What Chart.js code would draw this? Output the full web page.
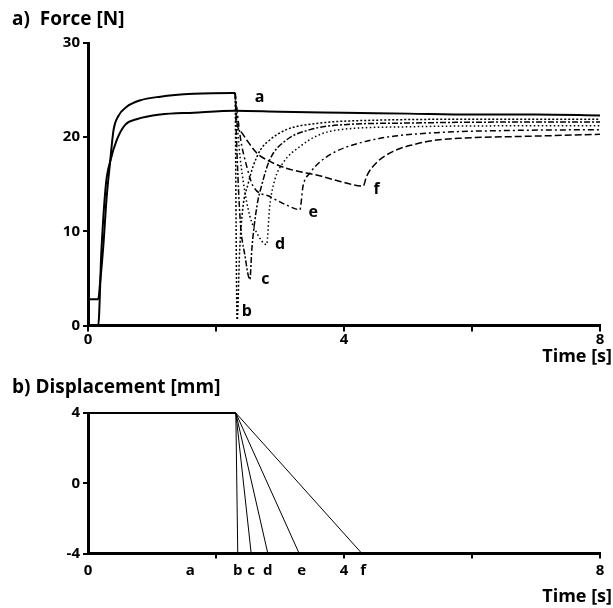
<!DOCTYPE html>
<html>
<head>
<meta charset="utf-8">
<script src="https://cdn.jsdelivr.net/npm/chart.js@4.4.1/dist/chart.umd.min.js"></script>
<style>
  body { margin: 0; background: #fff; }
  #wrap { position: relative; width: 613px; height: 608px; }
  canvas { position: absolute; left: 0; display: block; }
</style>
</head>
<body>
<div id="wrap">
  <canvas id="forceChart" width="613" height="368" style="top:0"></canvas>
  <canvas id="dispChart" width="613" height="240" style="top:368px"></canvas>
</div>
<script>
// force curves (time in s, force in N)
const loadT = [0, 0.16, 0.19, 0.24, 0.29, 0.34, 0.40, 0.47, 0.60, 0.81, 1.13, 1.65, 2.27, 2.30];
const loadF = [2.8, 2.8, 4.6, 8.5, 13.5, 17.0, 20.8, 22.2, 23.2, 23.9, 24.3, 24.6, 24.7, 24.7];

const aT = [0, 0.16, 0.21, 0.28, 0.35, 0.45, 0.58, 0.76, 1.13, 1.65, 2.3, 3, 4, 5, 6, 7, 8];
const aF = [0, 0, 8, 15, 17.5, 19.7, 21.3, 21.9, 22.4, 22.6, 22.8, 22.7, 22.6, 22.5, 22.4, 22.4, 22.3];

const bT = [2.30, 2.33, 2.37, 2.42, 2.50, 2.58, 2.70, 2.84, 3.10, 3.63, 4.5, 6, 8];
const bF = [24.7, 0.6, 8, 12.5, 15, 16.9, 18.7, 19.7, 20.8, 21.5, 21.8, 21.9, 21.9];

const cT = [2.30, 2.33, 2.38, 2.45, 2.53, 2.56, 2.64, 2.71, 2.84, 3.10, 3.47, 3.94, 5, 6.5, 8];
const cF = [24.7, 18, 11, 7.5, 4.9, 8.1, 12.7, 14.8, 17.6, 19.7, 20.8, 21.3, 21.5, 21.6, 21.6];

const dT = [2.30, 2.36, 2.43, 2.53, 2.64, 2.79, 2.84, 2.92, 3.05, 3.31, 3.63, 3.94, 5, 6.5, 8];
const dF = [24.7, 19, 15.1, 11.6, 9.8, 8.6, 12.7, 15.5, 17.3, 19.0, 20.3, 20.8, 21.1, 21.2, 21.2];

const eT = [2.30, 2.38, 2.48, 2.58, 2.84, 3.10, 3.31, 3.36, 3.47, 3.63, 3.85, 4.15, 4.67, 5.5, 6.5, 8];
const eF = [24.7, 20, 16.9, 14.8, 13.7, 12.8, 12.3, 14.8, 16.2, 17.4, 18.4, 19.2, 20.0, 20.5, 20.7, 20.8];

const fT = [2.30, 2.32, 2.40, 2.48, 2.64, 2.85, 3.1, 3.62, 3.94, 4.30, 4.35, 4.51, 4.77, 5.08, 5.45, 5.86, 6.9, 8];
const fF = [24.7, 21.8, 20.5, 19.7, 18.3, 17.4, 16.7, 15.9, 15.3, 14.8, 15.8, 17.3, 18.5, 19.2, 19.7, 19.9, 20.1, 20.3];

const curveNames = ['a', 'b', 'c', 'd', 'e', 'f'];
const nameT = [2.68, 2.48, 2.77, 3.0, 3.52, 4.51];
const nameF = [24.2, 1.5, 4.9, 8.6, 12.0, 14.4];

// displacement (mm)
const holdT = [0, 2.31];
const holdD = [4, 4];
const rampEnds = [2.34, 2.55, 2.81, 3.3, 4.28];
const dispTickPos = [0, 1.6, 2, 2.34, 2.55, 2.81, 3.34, 4, 4.3, 6, 8];
const dispTickText = ['0', 'a', '', 'b', 'c', 'd', 'e', '4', 'f', '', '8'];
const markedTimes = [2, 4, 6, 8];

const FONT = '"Open Sans", "DejaVu Sans", sans-serif';
const tickFont = { family: FONT, size: 15, weight: 'bold', lineHeight: 1 };

function pts(t, v) {
    return t.map((x, i) => ({ x: x, y: v[i] }));
}

function line(t, v, width, dash) {
    return {
        data: pts(t, v),
        showLine: true,
        borderColor: '#000',
        borderWidth: width,
        borderDash: dash,
        pointRadius: 0,
        cubicInterpolationMode: 'monotone',
        clip: false
    };
}

// draws the curve letters and the "Time [s]" caption
const textPlugin = {
    id: 'textPlugin',
    afterDraw(chart, args, opts) {
        const ctx = chart.ctx;
        ctx.save();
        ctx.fillStyle = '#000';
        ctx.textBaseline = 'middle';
        if (opts.names) {
            ctx.font = 'bold 16px ' + FONT;
            ctx.textAlign = 'center';
            opts.names.forEach((n, i) => {
                ctx.fillText(n, chart.scales.x.getPixelForValue(opts.t[i]), chart.scales.y.getPixelForValue(opts.f[i]));
            });
        }
        ctx.font = 'bold 18px ' + FONT;
        ctx.textAlign = 'right';
        ctx.fillText('Time [s]', chart.width - 1, opts.captionY);
        ctx.restore();
    }
};

function axisX(extra) {
    return Object.assign({
        type: 'linear',
        min: 0,
        max: 8,
        border: { color: '#000', width: 3 },
        grid: { drawOnChartArea: false, drawTicks: true, tickLength: 6, color: '#000', lineWidth: 2 },
        ticks: { color: '#000', font: tickFont, maxRotation: 0, autoSkip: false, padding: 0.5 }
    }, extra);
}

// a) force
new Chart(document.getElementById('forceChart').getContext('2d'), {
    type: 'scatter',
    data: {
        datasets: [
            line(loadT, loadF, 2, []),
            line(aT, aF, 2, []),
            line(bT, bF, 1.5, [2, 2]),
            line(cT, cF, 1.5, [6, 2, 2, 2]),
            line(dT, dF, 1.5, [1.5, 2.5]),
            line(eT, eF, 1.5, [6, 3, 2, 3]),
            line(fT, fF, 1.5, [7, 3])
        ]
    },
    options: {
        responsive: false,
        animation: false,
        layout: { padding: { left: 12, right: 13, top: 0, bottom: 20.5 } },
        plugins: {
            legend: { display: false },
            tooltip: { enabled: false },
            title: {
                display: true,
                text: 'a)  Force [N]',
                align: 'start',
                color: '#000',
                font: { family: FONT, size: 19, weight: 'bold', lineHeight: 1.2 },
                padding: { top: 8, bottom: 12.2 }
            },
            textPlugin: { names: curveNames, t: nameT, f: nameF, captionY: 357 }
        },
        scales: {
            x: axisX({
                ticks: {
                    color: '#000', font: tickFont, maxRotation: 0, autoSkip: false, padding: 0.5,
                    stepSize: 2,
                    callback: (v) => (v % 4 === 0 ? v : '')
                }
            }),
            y: {
                min: 0,
                max: 30,
                border: { color: '#000', width: 3 },
                grid: { drawOnChartArea: false, drawTicks: true, tickLength: 5, color: '#000', lineWidth: 2 },
                ticks: { stepSize: 10, color: '#000', font: tickFont, padding: 3 },
                afterFit: (scale) => { scale.width = 76; }
            }
        }
    },
    plugins: [textPlugin]
});

// b) displacement
const dispSets = [line(holdT, holdD, 2, [])];
rampEnds.forEach((end) => {
    const s = line([holdT[1], end, 8], [4, -4, -4], 1, []);
    s.cubicInterpolationMode = 'default';
    s.tension = 0;
    dispSets.push(s);
});

new Chart(document.getElementById('dispChart').getContext('2d'), {
    type: 'scatter',
    data: { datasets: dispSets },
    options: {
        responsive: false,
        animation: false,
        layout: { padding: { left: 12, right: 13, top: 0, bottom: 25.5 } },
        plugins: {
            legend: { display: false },
            tooltip: { enabled: false },
            title: {
                display: true,
                text: 'b) Displacement [mm]',
                align: 'start',
                color: '#000',
                font: { family: FONT, size: 19, weight: 'bold', lineHeight: 1.2 },
                padding: { top: 8.6, bottom: 13.6 }
            },
            textPlugin: { captionY: 229 }
        },
        scales: {
            x: axisX({
                afterBuildTicks: (scale) => {
                    scale.ticks = dispTickPos.map((v) => ({ value: v }));
                },
                grid: {
                    drawOnChartArea: false, drawTicks: true, tickLength: 5, lineWidth: 2,
                    color: (ctx) => (ctx.tick && markedTimes.includes(ctx.tick.value) ? '#000' : 'rgba(0,0,0,0)')
                },
                ticks: {
                    color: '#000', font: tickFont, maxRotation: 0, autoSkip: false, padding: 4.5,
                    callback: (v, i) => dispTickText[i]
                }
            }),
            y: {
                min: -4,
                max: 4,
                border: { color: '#000', width: 3 },
                grid: { drawOnChartArea: false, drawTicks: true, tickLength: 5, color: '#000', lineWidth: 2 },
                ticks: { stepSize: 4, color: '#000', font: tickFont, padding: 3 },
                afterFit: (scale) => { scale.width = 76; }
            }
        }
    },
    plugins: [textPlugin]
});
</script>
</body>
</html>
